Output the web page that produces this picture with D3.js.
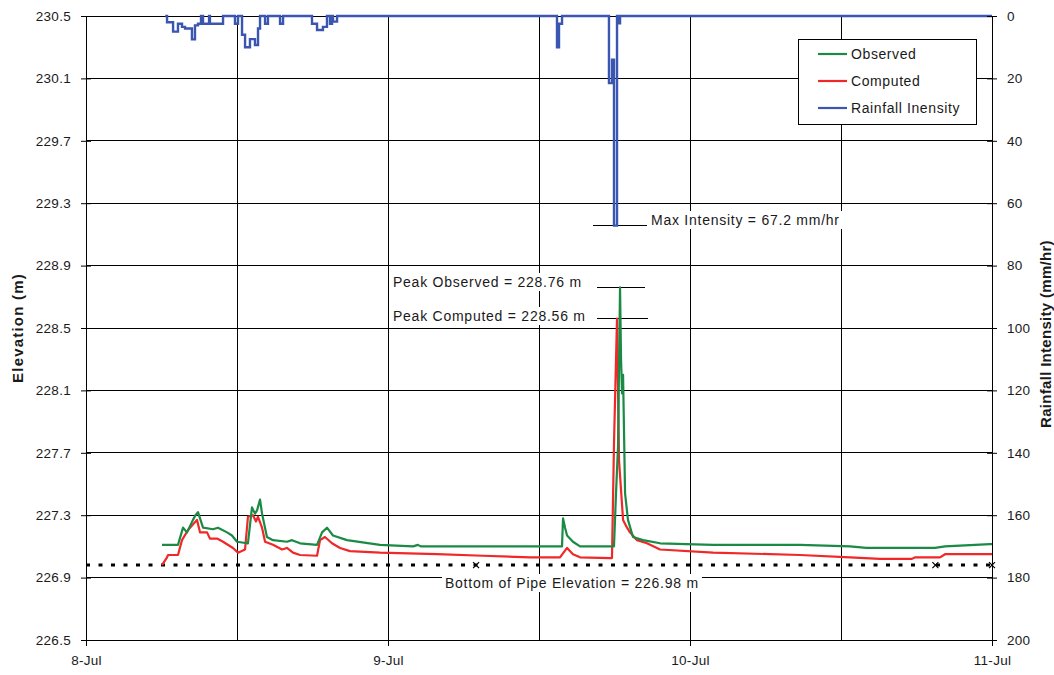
<!DOCTYPE html>
<html><head><meta charset="utf-8">
<script src="https://cdn.jsdelivr.net/npm/d3@7"></script>
<style>body{margin:0;background:#fff}svg{display:block;font-family:"Liberation Sans",Arial,sans-serif}</style>
</head><body><svg id="c" width="1054" height="675"></svg>
<script>
// ---- data (hours since 8-Jul 00:00) ----
const obsHours = [6.04,7.31,7.71,8.03,8.50,8.70,8.90,9.30,10.09,10.49,11.21,11.60,12.0,12.80,12.87,13.19,13.43,13.59,13.83,13.99,14.38,14.86,15.97,16.37,17.01,18.36,18.76,19.15,19.63,20.74,23.36,25.99,26.38,26.6,28.13,35.84,37.83,37.91,38.07,38.23,38.70,39.26,41.96,42.12,42.28,42.44,42.52,42.60,42.68,42.84,43.07,43.47,44.27,45.62,49.83,56.74,60.72,62.0,67.47,68.27,71.84,72.0];
const obsElev  = [227.11,227.11,227.22,227.19,227.27,227.30,227.32,227.22,227.21,227.22,227.19,227.17,227.13,227.12,227.12,227.35,227.31,227.33,227.40,227.31,227.16,227.14,227.13,227.14,227.12,227.11,227.19,227.22,227.17,227.14,227.11,227.10,227.11,227.10,227.10,227.10,227.10,227.28,227.22,227.17,227.13,227.10,227.10,227.44,227.74,228.76,228.30,228.08,228.20,227.44,227.27,227.16,227.14,227.12,227.11,227.11,227.10,227.09,227.09,227.10,227.115,227.115];

const compHours = [6.04,6.44,6.52,7.31,7.63,8.11,8.82,9.06,9.62,9.85,10.41,10.89,11.68,12.08,12.64,12.87,13.27,13.51,13.67,13.99,14.23,14.86,15.58,15.97,16.45,17.01,18.36,18.60,18.99,19.55,20.19,20.98,23.36,27.89,31.55,35.29,37.67,38.23,38.70,39.26,41.64,41.80,41.96,42.20,42.36,42.68,43.00,43.23,43.79,44.58,45.62,49.83,56.74,60.72,63.10,65.64,65.90,67.87,68.27,72.0];
const compElev  = [226.98,227.03,227.045,227.045,227.14,227.205,227.27,227.19,227.19,227.15,227.15,227.13,227.09,227.06,227.08,227.29,227.30,227.26,227.29,227.22,227.13,227.11,227.08,227.09,227.06,227.045,227.04,227.14,227.16,227.12,227.09,227.07,227.06,227.05,227.04,227.03,227.03,227.09,227.05,227.03,227.025,227.025,227.76,228.56,227.65,227.27,227.22,227.19,227.14,227.12,227.08,227.06,227.045,227.03,227.02,227.02,227.03,227.03,227.05,227.05];

// rainfall as step values starting at each hour
const rainHours = [6.3,6.44,6.92,7.31,7.63,7.87,8.42,8.66,8.90,9.14,9.30,9.78,9.85,10.89,11.84,12.08,12.40,12.64,13.03,13.43,13.67,13.83,14.23,14.46,15.42,15.66,17.96,18.36,18.83,19.15,19.39,19.55,19.63,19.95,37.43,37.59,37.83,41.56,41.80,41.96,42.20,42.28,42.44,72.0];
const rainIntensity = [0,2,5,2.5,3.5,4,7.5,3,2.5,0,2.5,0,2.5,0,2.5,0,6,10,7.4,9.3,4,0,2.5,0,2.5,0,2.5,4.5,3.5,0,2.5,0,1.8,0,10,2.5,0,21.5,14,67.2,0,2.3,0,0];

const pipeBottom = 226.98;
const pipeMarkHours = [31.0, 67.5, 72.0];
const elevTicks = [226.5,226.9,227.3,227.7,228.1,228.5,228.9,229.3,229.7,230.1,230.5];
const rainTicks = [0,20,40,60,80,100,120,140,160,180,200];
const gridHours = [12,24,36,48,60];
const dayHours = [0,24,48,72];
const seriesNames = ["Observed","Computed","Rainfall Inensity"];
const seriesColors = ["#1a8a45","#f02828","#3a56b0"];

// ---- scales ----
const t0 = new Date(2004,6,8);
const toDate = h => new Date(t0.getTime()+h*3600e3);
const L=86,R=992,T=16,B=640;
const x = d3.scaleTime().domain([toDate(0),toDate(72)]).range([L,R]);
const yL = d3.scaleLinear().domain([226.5,230.5]).range([B,T]);
const yR = d3.scaleLinear().domain([0,200]).range([T,B]);

const svg = d3.select("#c");
const txt = "#1a1a1a";

// gridlines
svg.append("g").selectAll("line").data(elevTicks).join("line")
  .attr("x1",L).attr("x2",R).attr("y1",d=>yL(d)).attr("y2",d=>yL(d))
  .attr("stroke","#000").attr("stroke-width",1).attr("shape-rendering","crispEdges");
svg.append("g").selectAll("line").data(gridHours).join("line")
  .attr("x1",d=>x(toDate(d))).attr("x2",d=>x(toDate(d))).attr("y1",T).attr("y2",B)
  .attr("stroke","#000").attr("stroke-width",1).attr("shape-rendering","crispEdges");

// annotation boxes (white backgrounds) + text
function note(tx, ty, s){
  const g = svg.append("g");
  const t = g.append("text").attr("x",tx).attr("y",ty).attr("font-size",14)
    .attr("letter-spacing","0.75px").attr("fill",txt).text(s);
  const bb = t.node().getBBox();
  g.insert("rect","text").attr("x",bb.x-3).attr("y",bb.y-1).attr("width",bb.width+6).attr("height",bb.height+2).attr("fill","#fff");
}
note(651, 225, "Max Intensity = 67.2 mm/hr");
note(393, 287, "Peak Observed = 228.76 m");
note(393, 321, "Peak Computed = 228.56 m");
note(445, 588, "Bottom of Pipe Elevation = 226.98 m");

// leader lines
const lead = svg.append("g").attr("stroke","#000").attr("stroke-width",1).attr("shape-rendering","crispEdges");
lead.append("line").attr("x1",593).attr("x2",647).attr("y1",yR(67.2)).attr("y2",yR(67.2));
lead.append("line").attr("x1",597).attr("x2",645).attr("y1",yL(228.76)).attr("y2",yL(228.76));
lead.append("line").attr("x1",597).attr("x2",648).attr("y1",yL(228.56)).attr("y2",yL(228.56));

// pipe bottom dashed line
svg.append("line").attr("x1",L).attr("x2",R).attr("y1",yL(pipeBottom)).attr("y2",yL(pipeBottom))
  .attr("stroke","#000").attr("stroke-width",3).attr("stroke-dasharray","4,8.5");
svg.append("g").selectAll("path").data(pipeMarkHours).join("path")
  .attr("d",d=>{const cx=x(toDate(d)),cy=yL(pipeBottom);return `M${cx-3},${cy-3}L${cx+3},${cy+3}M${cx-3},${cy+3}L${cx+3},${cy-3}`;})
  .attr("stroke","#000").attr("stroke-width",1.2);

// series
const lineL = d3.line().x(d=>x(toDate(d[0]))).y(d=>yL(d[1]));
const comp = compHours.map((h,i)=>[h,compElev[i]]);
const obs = obsHours.map((h,i)=>[h,obsElev[i]]);
const rain = rainHours.map((h,i)=>[h,rainIntensity[i]]);
svg.append("path").attr("d",lineL(comp)).attr("fill","none").attr("stroke",seriesColors[1]).attr("stroke-width",2.2).attr("stroke-linejoin","round");
svg.append("path").attr("d",lineL(obs)).attr("fill","none").attr("stroke",seriesColors[0]).attr("stroke-width",2.2).attr("stroke-linejoin","round");
const lineR = d3.line().x(d=>x(toDate(d[0]))).y(d=>yR(d[1])).curve(d3.curveStepAfter);
svg.append("path").attr("d",lineR(rain)).attr("fill","none").attr("stroke",seriesColors[2]).attr("stroke-width",2.4);

// axes
const axL = svg.append("g").attr("transform",`translate(${L},0)`)
  .call(d3.axisLeft(yL).tickValues(elevTicks).tickFormat(d3.format(".1f")).tickSize(5).tickPadding(10));
const axR = svg.append("g").attr("transform",`translate(${R},0)`)
  .call(d3.axisRight(yR).tickValues(rainTicks).tickSize(5).tickPadding(10));
const axB = svg.append("g").attr("transform",`translate(0,${B})`)
  .call(d3.axisBottom(x).tickValues(dayHours.map(toDate)).tickFormat(d3.timeFormat("%-d-%b")).tickSize(6).tickPadding(9));
axL.selectAll(".tick line").attr("x1",5);
axR.selectAll(".tick line").attr("x1",-5);
axB.selectAll(".tick line").attr("y1",-8);
[axL,axR,axB].forEach(a=>{
  a.select(".domain").attr("stroke","#000");
  a.selectAll(".tick line").attr("stroke","#000");
  a.selectAll("text").attr("font-size",13.5).attr("letter-spacing","0.3px").attr("fill",txt).attr("font-family","Liberation Sans, Arial, sans-serif");
});

// axis titles
svg.append("text").attr("transform","translate(23,328) rotate(-90)").attr("text-anchor","middle")
  .attr("font-size",15).attr("letter-spacing","1.2px").attr("font-weight","bold").attr("fill",txt).text("Elevation (m)");
svg.append("text").attr("transform","translate(1051,334) rotate(-90)").attr("text-anchor","middle")
  .attr("font-size",15).attr("letter-spacing","0.3px").attr("font-weight","bold").attr("fill",txt).text("Rainfall Intensity (mm/hr)");

// legend
const lg = svg.append("g");
lg.append("rect").attr("x",798.5).attr("y",39.5).attr("width",178).attr("height",85).attr("fill","#fff").attr("stroke","#000");
lg.selectAll("g.it").data(seriesNames).join("g").attr("class","it")
  .attr("transform",(d,i)=>`translate(0,${54+i*27})`)
  .each(function(d,i){
    const g=d3.select(this);
    g.append("line").attr("x1",818).attr("x2",847).attr("y1",0).attr("y2",0).attr("stroke",seriesColors[i]).attr("stroke-width",2.2);
    g.append("text").attr("x",851).attr("y",5).attr("font-size",14).attr("letter-spacing","0.6px").attr("fill",txt).text(d);
  });
</script></body></html>
